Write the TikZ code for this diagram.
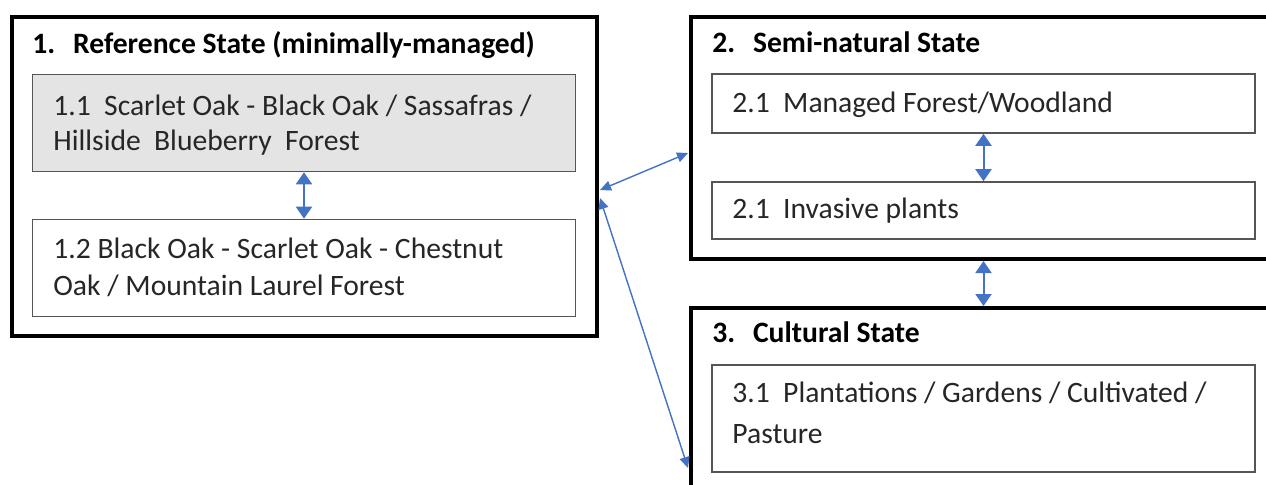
\documentclass[tikz,border=0pt]{standalone}
\usepackage{fontspec}
\setmainfont{Carlito}
\usetikzlibrary{arrows.meta,calc}
\definecolor{arrowblue}{HTML}{4472C4}
\definecolor{boxgray}{HTML}{E4E4E4}
\definecolor{edgegray}{HTML}{555555}
\definecolor{txtgray}{HTML}{262626}
\begin{document}
\begin{tikzpicture}[x=0.5pt,y=-0.5pt,
  outerbox/.style={draw=black, line width=2pt, inner sep=0pt},
  innerbox/.style={draw=edgegray, line width=0.8pt, inner sep=0pt, minimum width=271.5pt},
  ttl/.style={anchor=base west, inner sep=0pt, font=\fontsize{14.8}{18}\selectfont\bfseries},
  txtline/.style={anchor=base west, inner sep=0pt, font=\fontsize{14.8}{18}\selectfont, text=txtgray},
  dbl/.style={{Triangle[length=6pt,width=8pt]}-{Triangle[length=6pt,width=8pt]}, draw=arrowblue, line width=1pt},
  diag/.style={{Triangle[length=5.5pt,width=5pt]}-{Triangle[length=5.5pt,width=5pt]}, draw=arrowblue, line width=0.7pt}
]
\path[use as bounding box, clip] (0,0) rectangle (1266,484);
\fill[white] (0,0) rectangle (1266,484);

% outer state boxes
\node[outerbox, minimum width=292.5pt, minimum height=159.5pt] (b1) at (304.5,176.5) {};
\node[outerbox, minimum width=294.5pt, minimum height=121pt] (b2) at (985.5,138) {};
\node[outerbox, minimum width=294.5pt, minimum height=96pt] (b3) at (985.5,404) {};

% inner boxes
\node[innerbox, fill=boxgray, minimum height=48.5pt] (b11) at (304,123) {};
\node[innerbox, minimum height=48.5pt] (b12) at (304,268) {};
\node[innerbox, minimum height=29.5pt] (b21) at (983.5,103.5) {};
\node[innerbox, minimum height=28.5pt] (b22) at (983.5,210.5) {};
\node[innerbox, minimum height=53.5pt] (b31) at (983.5,418.5) {};

% titles
\node[ttl] (t1) at (32,53) {1.\hspace{0.6em}Reference State (minimally-managed)};
\node[ttl] (t2) at (712,52) {2.\hspace{0.6em}Semi-natural State};
\node[ttl] (t3) at (712,342) {3.\hspace{0.6em}Cultural State};

% texts
\node[txtline] (l11a) at (53,115) {1.1\hspace{0.45em}Scarlet Oak - Black Oak / Sassafras /};
\node[txtline] (l11b) at (53,150) {Hillside\hspace{0.45em}Blueberry\hspace{0.45em}Forest};
\node[txtline] (l12a) at (53,258) {1.2 Black Oak - Scarlet Oak - Chestnut};
\node[txtline] (l12b) at (53,295) {Oak / Mountain Laurel Forest};
\node[txtline] (l21) at (732,112) {2.1\hspace{0.45em}Managed Forest/Woodland};
\node[txtline] (l22) at (732,218) {2.1\hspace{0.45em}Invasive plants};
\node[txtline] (l31a) at (732,402) {3.1\hspace{0.45em}Plantations / Gardens / Cultivated /};
\node[txtline] (l31b) at (732,443) {Pasture};

% connectors
\draw[dbl] (b11.south) -- (b12.north);
\draw[dbl] (b21.south) -- (b22.north);
\draw[dbl] (b21.south |- b2.south) -- (b21.south |- b3.north);
\coordinate (p1a) at ($(b1.east)+(1,13.5)$);
\coordinate (p2a) at ($(b2.west)+(-1,15)$);
\coordinate (p1b) at ($(b1.east)+(1,21.5)$);
\coordinate (p3b) at ($(b3.west)+(-1,64)$);
\draw[diag] (p1a) -- (p2a);
\draw[diag] (p1b) -- (p3b);
\end{tikzpicture}
\end{document}
